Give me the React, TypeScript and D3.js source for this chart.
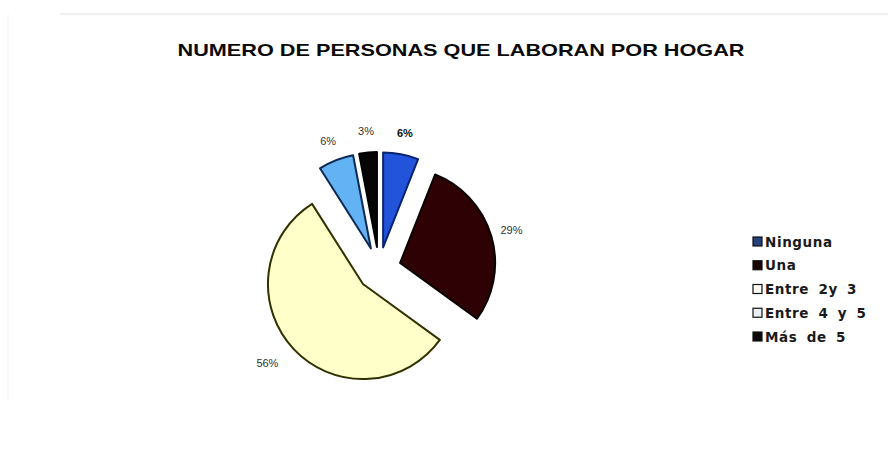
import React from "react";
import * as d3 from "d3";

const categories = ["Ninguna", "Una", "Entre 2y 3", "Entre 4 y 5", "Más de 5"];
const values = [6, 29, 56, 6, 3];
const labels = ["6%", "29%", "56%", "6%", "3%"];
const fills = ["#2153db", "#2e0104", "#ffffc9", "#63b2f3", "#050505"];
const strokes = ["#0b2470", "#0a0000", "#2f3300", "#0c2a55", "#000000"];
const legendFills = ["#25407a", "#1a0505", "#fbfbf4", "#e9eef3", "#0a0a0a"];
const title = "NUMERO DE PERSONAS QUE LABORAN POR HOGAR";

const W = 888;
const H = 475;

export default function App() {
  const cx = 379;
  const cy = 269;
  const R = 95;
  const explode = 22;
  const labelR = 138;

  const pie = d3.pie<number>().sort(null).value((d) => d);
  const arcs = pie(values);
  const arc = d3.arc<d3.PieArcDatum<number>>().innerRadius(0).outerRadius(R);

  const legendY = d3
    .scalePoint<string>()
    .domain(categories)
    .range([242, 337]);

  return (
    <svg
      width={W}
      height={H}
      style={{ position: "absolute", left: 0, top: 0, background: "#fff" }}
      fontFamily="'Liberation Sans', Arial, sans-serif"
    >
      <rect x={0} y={0} width={W} height={H} fill="#ffffff" />
      <line x1={60} y1={14} x2={888} y2={14} stroke="#ececec" strokeWidth={1.5} />
      <line x1={8} y1={14} x2={8} y2={400} stroke="#f2f2f2" strokeWidth={1} />
      <text
        x={461}
        y={56}
        textAnchor="middle"
        fontSize={17}
        fontWeight="bold"
        fill="#0a0a0a"
        textLength={567}
        lengthAdjust="spacingAndGlyphs"
      >
        {title}
      </text>
      <g transform={`translate(${cx},${cy})`}>
        {arcs.map((a, i) => {
          const mid = (a.startAngle + a.endAngle) / 2;
          const dx = explode * Math.sin(mid);
          const dy = -explode * Math.cos(mid);
          return (
            <path
              key={categories[i]}
              d={arc(a) || ""}
              transform={`translate(${dx},${dy})`}
              fill={fills[i]}
              stroke={strokes[i]}
              strokeWidth={2}
              strokeLinejoin="round"
            />
          );
        })}
        {arcs.map((a, i) => {
          const mid = (a.startAngle + a.endAngle) / 2;
          const s = Math.sin(mid);
          const lx = labelR * s;
          const ly = -labelR * Math.cos(mid);
          const anchor = s < -0.5 ? "end" : "middle";
          return (
            <text
              key={"l" + i}
              x={lx}
              y={ly}
              dy="0.35em"
              textAnchor={anchor}
              fontSize={11}
              fontWeight={i === 0 ? "bold" : "normal"}
              fill={i === 0 ? "#111" : "#333"}
            >
              {labels[i]}
            </text>
          );
        })}
      </g>
      <g>
        {categories.map((c, i) => {
          const y = legendY(c) as number;
          return (
            <g key={"lg" + i}>
              <rect
                x={753}
                y={y - 5}
                width={9}
                height={9}
                fill={legendFills[i]}
                stroke="#111"
                strokeWidth={1.2}
              />
              <text
                x={765}
                y={y}
                dy="0.35em"
                fontFamily="'DejaVu Sans', sans-serif"
                fontSize={13.5}
                fontWeight="bold"
                letterSpacing={0.6}
                wordSpacing={4}
                fill="#1a1a1a"
              >
                {c}
              </text>
            </g>
          );
        })}
      </g>
    </svg>
  );
}
